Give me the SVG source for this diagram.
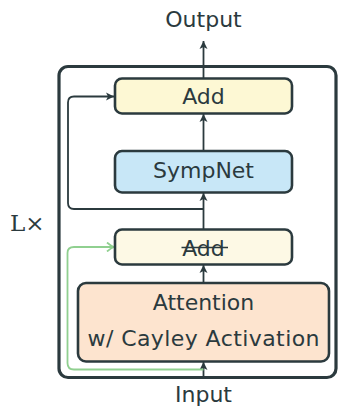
<svg xmlns="http://www.w3.org/2000/svg" width="338" height="409" viewBox="0 0 338 409">
<style>
.t{font-family:"DejaVu Sans",sans-serif;font-size:22px;fill:#2b3a3e;text-anchor:middle}
.box{stroke:#2b3a3e;stroke-width:2.6}
.ln{fill:none;stroke:#2b3a3e;stroke-width:1.8}
.gr{fill:none;stroke:#90d090;stroke-width:1.8}
</style>
<defs>
<marker id="ah" markerWidth="10" markerHeight="10" viewBox="-9 -5 10 10" refX="0" refY="0" orient="auto" markerUnits="userSpaceOnUse">
<path d="M0,0 L-8,-4 L-6,0 L-8,4 Z" fill="#2b3a3e"/>
</marker>
<marker id="ahg" markerWidth="10" markerHeight="10" viewBox="-9 -5 10 10" refX="0" refY="0" orient="auto" markerUnits="userSpaceOnUse">
<path d="M-7,-4.5 Q-3,-1 0,0 Q-3,1 -7,4.5" fill="none" stroke="#90d090" stroke-width="1.8"/>
</marker>
</defs>
<rect x="59" y="66.5" width="277" height="311" rx="9" fill="none" stroke="#2b3a3e" stroke-width="3.2"/>
<text x="10" y="231" style="font-family:'DejaVu Serif',serif;font-size:23px;fill:#2b3a3e">L×</text>
<g id="connectors">
<line class="ln" x1="203.5" y1="377" x2="203.5" y2="362" marker-end="url(#ah)"/>
<line class="ln" x1="203.5" y1="283" x2="203.5" y2="265" marker-end="url(#ah)"/>
<line class="ln" x1="203.5" y1="229" x2="203.5" y2="193" marker-end="url(#ah)"/>
<line class="ln" x1="203.5" y1="151" x2="203.5" y2="114" marker-end="url(#ah)"/>
<line class="ln" x1="203.5" y1="78" x2="203.5" y2="41" marker-end="url(#ah)"/>
<path class="ln" d="M203.5,209 H74 Q68,209 68,203 V102.5 Q68,96.5 74,96.5 H114" marker-end="url(#ah)"/>
<path class="gr" d="M203.5,369.5 H74 Q67.5,369.5 67.5,363 V253 Q67.5,247 74,247 H114" marker-end="url(#ahg)"/>
</g>
<g id="add-top">
<rect class="box" x="115" y="78.5" width="177" height="35" rx="7" fill="#fdf8d4"/>
<text class="t" x="203.5" y="104">Add</text>
</g>
<g id="sympnet">
<rect class="box" x="115" y="151" width="177" height="41.5" rx="7" fill="#c8e7f7"/>
<text class="t" x="203.5" y="178">SympNet</text>
</g>
<g id="add-bottom">
<rect class="box" x="115" y="229.5" width="177" height="35" rx="7" fill="#fdf9e5"/>
<text class="t" x="203.5" y="256">Add</text>
<line x1="181.5" y1="247.5" x2="228" y2="247.5" stroke="#2b3a3e" stroke-width="1.6"/>
</g>
<g id="attention">
<rect class="box" x="78" y="283" width="251" height="78.5" rx="8" fill="#fde4cf"/>
<text class="t" x="203.5" y="310">Attention</text>
<text class="t" x="203.5" y="346" textLength="232">w/ Cayley Activation</text>
</g>
<g id="output"><text class="t" x="203.5" y="27">Output</text></g>
<g id="input"><text class="t" x="203.5" y="402">Input</text></g>
</svg>
